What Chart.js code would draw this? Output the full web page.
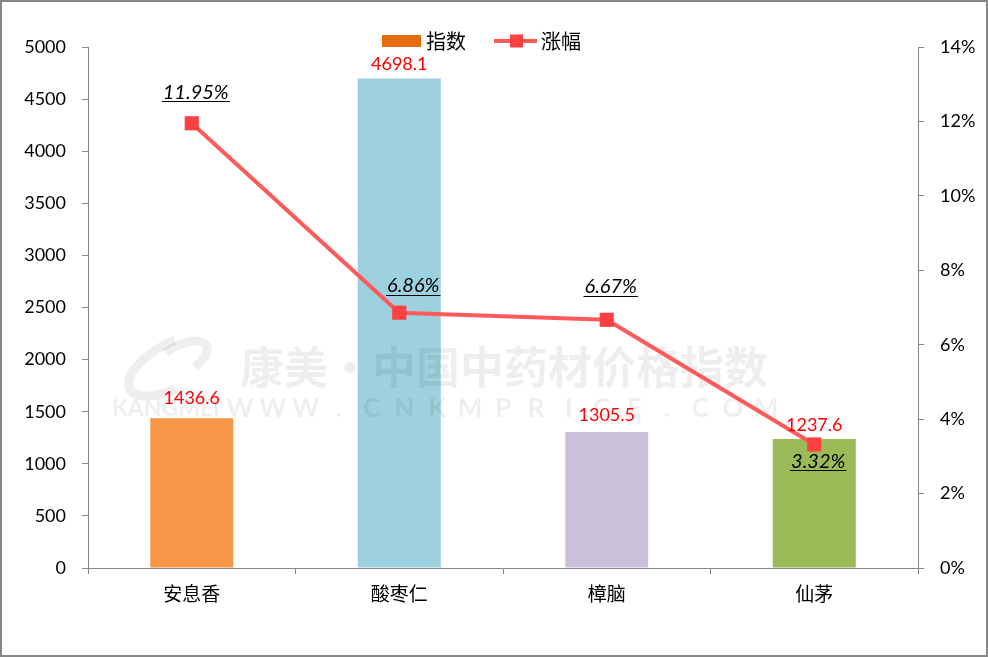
<!DOCTYPE html>
<html>
<head>
<meta charset="utf-8">
<script src="https://cdn.jsdelivr.net/npm/chart.js@4/dist/chart.umd.min.js"></script>
<style>
html,body{margin:0;padding:0;background:#fff;}
canvas{display:block;}
</style>
</head>
<body>
<canvas id="c" width="988" height="657"></canvas>
<script>
// ---- data ----
const categories = ['安息香', '酸枣仁', '樟脑', '仙茅'];
const indexValues = [1436.6, 4698.1, 1305.5, 1237.6];
const changePct = [11.95, 6.86, 6.67, 3.32];
const seriesNames = ['指数', '涨幅'];
const leftTicks = { min: 0, max: 5000, step: 500 };
const rightTicks = { min: 0, max: 14, step: 2 };

// ---- styles ----
const barColors = ['#F79646', '#9ED1DF', '#CCC1DA', '#9BBB59'];
const legendBarColor = '#E46C0A';
const lineColor = '#FF5A5A';
const markerColor = '#FF4040';
const axisColor = '#868686';
const numFont = 'Lato, "Liberation Sans", sans-serif';
const cjkFont = '"Noto Sans CJK SC", sans-serif';
// label offsets (pixels) – layout only
const barLabelGap = [13, 7, 10, 7];
const lineLabelOffset = [[4, -31], [14, -27], [4, -33], [4, 17]];

const watermarkPlugin = {
  id: 'watermark',
  afterDatasetDraw(chart, args) {
    if (args.index !== 1) return;
    const ctx = chart.ctx;
    ctx.save();
    ctx.fillStyle = 'rgba(0,0,0,0.065)';
    ctx.strokeStyle = 'rgba(0,0,0,0.065)';
    // logo swoosh
    ctx.lineWidth = 9;
    ctx.beginPath(); ctx.ellipse(172, 366, 48, 22, -0.5, Math.PI * 0.55, Math.PI * 1.6); ctx.stroke();
    ctx.beginPath(); ctx.ellipse(180, 360, 30, 14, -0.5, Math.PI * 1.4, Math.PI * 2.4); ctx.stroke();
    ctx.textBaseline = 'middle';
    ctx.textAlign = 'left';
    ctx.font = 'bold 44px ' + cjkFont;
    ctx.fillText('康美·中国中药材价格指数', 240, 367);
    ctx.font = 'bold 23px ' + numFont;
    ctx.fillText('KANGMEI', 112, 409);
    const s = 'WWW.CNKMPRICE.COM';
    ctx.font = 'bold 26px ' + numFont;
    const x0 = 240, x1 = 766;
    const stepX = (x1 - x0) / (s.length - 1);
    ctx.textAlign = 'center';
    for (let i = 0; i < s.length; i++) ctx.fillText(s[i], x0 + i * stepX, 409);
    ctx.restore();
  }
};

const labelsPlugin = {
  id: 'labels',
  afterDraw(chart) {
    const ctx = chart.ctx;
    ctx.save();
    // bar value labels
    const barMeta = chart.getDatasetMeta(1);
    ctx.font = '18px ' + numFont;
    ctx.fillStyle = '#FF0000';
    ctx.textAlign = 'center';
    ctx.textBaseline = 'bottom';
    barMeta.data.forEach((el, i) => {
      ctx.fillText(indexValues[i].toFixed(1), el.x, el.y - barLabelGap[i] + 2);
    });
    // line labels
    const lineMeta = chart.getDatasetMeta(0);
    ctx.font = 'italic 20px ' + numFont;
    ctx.fillStyle = '#000';
    ctx.strokeStyle = '#000';
    ctx.lineWidth = 1;
    ctx.textBaseline = 'middle';
    lineMeta.data.forEach((el, i) => {
      const t = changePct[i].toFixed(2) + '%';
      const cx = el.x + lineLabelOffset[i][0];
      const cy = el.y + lineLabelOffset[i][1];
      ctx.fillText(t, cx, cy);
      const w = ctx.measureText(t).width;
      ctx.beginPath();
      ctx.moveTo(cx - w / 2 - 1, Math.round(cy + 9) + 0.5);
      ctx.lineTo(cx + w / 2 + 1, Math.round(cy + 9) + 0.5);
      ctx.stroke();
    });
    // legend
    ctx.fillStyle = legendBarColor;
    ctx.fillRect(382, 35, 39, 12);
    ctx.fillStyle = '#000';
    ctx.font = '20px ' + cjkFont;
    ctx.textAlign = 'left';
    ctx.textBaseline = 'middle';
    ctx.fillText(seriesNames[0], 426, 41);
    ctx.strokeStyle = lineColor;
    ctx.lineWidth = 4;
    ctx.beginPath(); ctx.moveTo(494, 41); ctx.lineTo(537, 41); ctx.stroke();
    ctx.fillStyle = markerColor;
    ctx.fillRect(510, 34.5, 13, 13);
    ctx.fillStyle = '#000';
    ctx.fillText(seriesNames[1], 541, 41);
    // outer frame
    ctx.strokeStyle = axisColor;
    ctx.lineWidth = 2;
    ctx.strokeRect(1, 1, 986, 655);
    ctx.restore();
  }
};

new Chart(document.getElementById('c'), {
  data: {
    labels: categories,
    datasets: [
      {
        type: 'line',
        label: seriesNames[1],
        data: changePct,
        yAxisID: 'y1',
        borderColor: lineColor,
        borderWidth: 4,
        pointStyle: 'rect',
        pointRadius: 10,
        pointBackgroundColor: markerColor,
        pointBorderWidth: 0,
        tension: 0,
        order: 0
      },
      {
        type: 'bar',
        label: seriesNames[0],
        data: indexValues,
        yAxisID: 'y',
        backgroundColor: barColors,
        barPercentage: 0.4,
        categoryPercentage: 1,
        order: 1
      }
    ]
  },
  options: {
    responsive: false,
    animation: false,
    devicePixelRatio: 1,
    layout: { padding: { top: 47, left: 0, right: 0, bottom: 0 } },
    plugins: { legend: { display: false }, tooltip: { enabled: false } },
    scales: {
      x: {
        type: 'category',
        offset: true,
        grid: { display: true, drawOnChartArea: false, drawTicks: true, tickLength: 6, color: axisColor, offset: true },
        border: { display: true, color: axisColor, width: 1 },
        ticks: { color: '#000', font: { family: cjkFont, size: 19 }, padding: 8 },
        afterFit(s) { s.height = 89; }
      },
      y: {
        position: 'left',
        min: leftTicks.min, max: leftTicks.max,
        ticks: { stepSize: leftTicks.step, color: '#000', font: { family: numFont, size: 18 }, padding: 16, callback: v => String(v) },
        grid: { display: true, drawOnChartArea: false, tickLength: 6, color: axisColor },
        border: { display: true, color: axisColor, width: 1 },
        afterFit(s) { s.width = 88; }
      },
      y1: {
        position: 'right',
        min: rightTicks.min, max: rightTicks.max,
        ticks: { stepSize: rightTicks.step, color: '#000', font: { family: numFont, size: 18 }, padding: 16, callback: v => v + '%' },
        grid: { display: true, drawOnChartArea: false, tickLength: 6, color: axisColor },
        border: { display: true, color: axisColor, width: 1 },
        afterFit(s) { s.width = 70; }
      }
    }
  },
  plugins: [watermarkPlugin, labelsPlugin]
});
</script>
</body>
</html>
